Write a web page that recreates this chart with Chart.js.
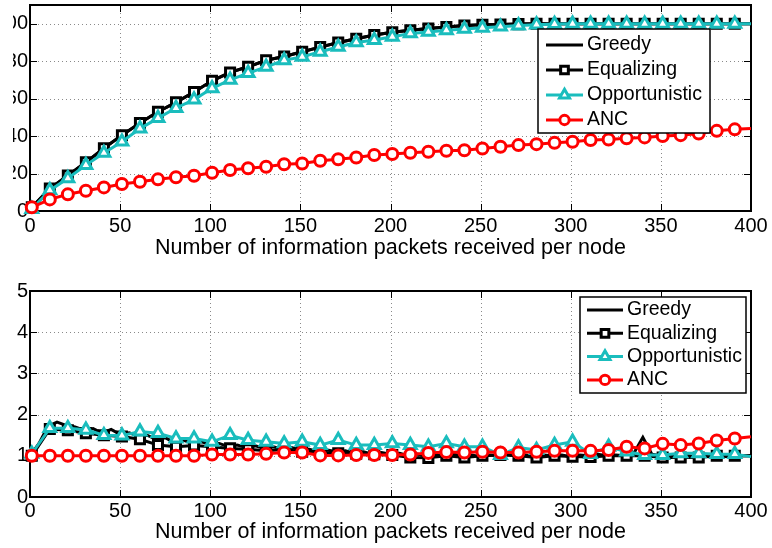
<!DOCTYPE html>
<html>
<head>
<meta charset="utf-8">
<script src="https://cdn.jsdelivr.net/npm/chart.js@4.4.1/dist/chart.umd.min.js"></script>
<style>
  html, body { margin: 0; padding: 0; background: #fff; }
  #wrapTop { position: absolute; left: 13px; top: 0; width: 759px; height: 270px; overflow: hidden; }
  #cTop { position: absolute; left: -13px; top: 0; }
  #cBot { position: absolute; left: 0; top: 270px; }
</style>
</head>
<body>
<div id="wrapTop"><canvas id="cTop" width="772" height="270"></canvas></div>
<canvas id="cBot" width="772" height="278"></canvas>
<script>
/* ── axes / labels ── */
const xTicks = [0, 50, 100, 150, 200, 250, 300, 350, 400];
const yTicksTop = [0, 20, 40, 60, 80, 100];
const yTicksBot = [0, 1, 2, 3, 4, 5];
const seriesNames = ['Greedy', 'Equalizing', 'Opportunistic', 'ANC'];
const xTitle = 'Number of information packets received per node';

/* ── marker positions (every 10 packets, plus the end point) ── */
const markX = [1, 11, 21, 31, 41, 51, 61, 71, 81, 91, 101, 111, 121, 131, 141, 151, 161, 171, 181, 191,
  201, 211, 221, 231, 241, 251, 261, 271, 281, 291, 301, 311, 321, 331, 341, 351, 361, 371, 381, 391, 400];

/* ── upper panel ── */
const greedyTop = [2, 12, 19, 26, 33.5, 40.5, 47, 53, 58, 63.5, 69.5, 74, 77, 80.5, 82.5, 85, 87.5, 90, 92, 94,
  95.5, 96.5, 97.4, 98.3, 99, 99.4, 99.6, 99.8, 100, 100, 100, 100, 100, 100, 100, 100, 100, 100, 100, 100, 100];
const equalTop = [2, 12, 19, 26, 33.5, 40.5, 47, 53, 58, 63.5, 69.5, 74, 77, 80.5, 82.5, 85, 87.5, 90, 92, 94,
  95.5, 96.5, 97.4, 98.3, 99, 99.4, 99.6, 99.8, 100, 100, 100, 100, 100, 100, 100, 100, 100, 100, 100, 100, 100];
const opporTop = [1, 11, 17.5, 24.5, 31, 37, 44, 49.6, 55, 59.5, 65.5, 70, 73.6, 77, 80.5, 82.3, 85, 87.6, 90, 91.3,
  93, 94.8, 95.6, 96.5, 97.2, 97.8, 98.4, 99, 99.5, 99.8, 100, 100, 100, 100, 100, 100, 100, 100, 100, 100, 100];
const ancTop = [2, 6.2, 8.9, 10.8, 12.6, 14.4, 15.6, 16.9, 18, 18.8, 20.4, 21.9, 22.8, 23.6, 25, 25.4, 26.8, 27.6, 28.6, 29.9,
  30.4, 31.1, 31.6, 32.2, 32.4, 33.4, 34.3, 35.2, 35.7, 36.4, 37, 37.9, 38.2, 38.8, 39.3, 40, 40.5, 41.4, 42.8, 43.6, 44];

/* ── lower panel ── */
const greedyX = [0, 5, 10, 15, 20, 25, 30, 35, 40, 45, 50, 55, 60, 65, 70, 75, 80, 85, 90, 95, 100,
  105, 110, 115, 120, 125, 130, 135, 140, 145, 150, 155, 160, 165, 170, 175, 180, 185, 190, 195, 200,
  205, 210, 215, 220, 225, 230, 235, 240, 245, 250, 255, 260, 265, 270, 275, 280, 285, 290, 295, 300,
  305, 310, 315, 320, 325, 330, 335, 340, 345, 350, 355, 360, 365, 370, 375, 380, 385, 390, 395, 400];
const greedyBot = [1.0, 1.3, 1.72, 1.82, 1.74, 1.7, 1.62, 1.66, 1.55, 1.64, 1.52, 1.56, 1.48, 1.5, 1.4, 1.44, 1.32, 1.38, 1.3, 1.34, 1.28,
  1.3, 1.22, 1.26, 1.2, 1.24, 1.18, 1.22, 1.16, 1.2, 1.14, 1.16, 1.1, 1.14, 1.1, 1.12, 1.06, 1.1, 1.04, 1.08, 1.04,
  1.06, 1.0, 1.04, 0.98, 1.02, 1.0, 1.04, 1.0, 1.02, 0.98, 1.02, 1.0, 1.04, 1.0, 1.02, 0.98, 1.02, 1.0, 1.02, 0.98,
  1.02, 1.0, 1.04, 1.0, 1.02, 1.0, 1.06, 1.45, 1.04, 1.0, 1.02, 0.98, 1.0, 0.98, 1.02, 1.0, 0.98, 1.0, 1.0, 1.0];
const equalBot = [1.0, 1.65, 1.62, 1.55, 1.5, 1.47, 1.4, 1.26, 1.22, 1.25, 1.22, 1.18, 1.16, 1.12, 1.15, 1.1, 1.08, 1.06, 1.05, 1.04,
  1.02, 0.96, 0.95, 1.0, 0.96, 1.0, 1.02, 1.0, 0.96, 1.0, 0.98, 0.97, 1.0, 1.0, 1.0, 0.96, 0.96, 0.96, 1.0, 1.0, 1.0];
const opporBot = [1.05, 1.67, 1.67, 1.63, 1.5, 1.49, 1.59, 1.55, 1.42, 1.42, 1.34, 1.5, 1.38, 1.34, 1.3, 1.34, 1.26, 1.38, 1.26, 1.26,
  1.3, 1.26, 1.22, 1.3, 1.22, 1.22, 1.02, 1.2, 1.14, 1.26, 1.34, 1.04, 1.22, 1.1, 1.02, 1.02, 1.06, 1.06, 1.04, 1.04, 0.98];
const ancBot = [1.0, 1.0, 1.0, 1.0, 1.0, 1.0, 1.0, 1.0, 1.0, 1.0, 1.03, 1.03, 1.03, 1.05, 1.08, 1.08, 1.01, 1.01, 1.02, 1.02,
  1.02, 1.03, 1.07, 1.09, 1.08, 1.1, 1.08, 1.08, 1.1, 1.12, 1.12, 1.12, 1.14, 1.22, 1.18, 1.29, 1.26, 1.3, 1.37, 1.42, 1.46];

const FONT = '"Liberation Sans", Arial, sans-serif';
const BLACK = '#000000', CYAN = '#1abdbd', RED = '#ff0000';

Chart.defaults.font.family = FONT;
Chart.defaults.color = '#000';

function pts(xs, ys) { return xs.map(function(x, i) { return {x: x, y: ys[i]}; }); }
// no marker on the closing point at x = 400
function marked(r) { return function(c) { return (c.raw && c.raw.x >= 400) ? 0 : r; }; }

function buildSets(gx, greedy, equal, oppor, anc) {
  return [
    {label: seriesNames[0], data: pts(gx, greedy), borderColor: BLACK, borderWidth: 3, pointRadius: 0, order: 4},
    {label: seriesNames[1], data: pts(markX, equal), borderColor: BLACK, borderWidth: 3, pointStyle: 'rect',
      markR: 6.4, pointRadius: marked(6.4), pointBorderWidth: 3, pointBorderColor: BLACK, pointBackgroundColor: '#fff', order: 3},
    {label: seriesNames[2], data: pts(markX, oppor), borderColor: CYAN, borderWidth: 3, pointStyle: 'triangle',
      markR: 6.8, pointRadius: marked(6.8), pointBorderWidth: 3, pointBorderColor: CYAN, pointBackgroundColor: '#fff', order: 2},
    {label: seriesNames[3], data: pts(markX, anc), borderColor: RED, borderWidth: 3, pointStyle: 'circle',
      markR: 5.5, pointRadius: marked(5.5), pointBorderWidth: 3, pointBorderColor: RED, pointBackgroundColor: '#fff', order: 1}
  ].map(function(d) { return Object.assign({clip: false, tension: 0, fill: false, pointHoverRadius: 0}, d); });
}

/* dotted grid, inward ticks on all four sides, and the axes box */
const frame = {
  id: 'frame',
  beforeDatasetsDraw(chart) {
    const ctx = chart.ctx, a = chart.chartArea, x = chart.scales.x, y = chart.scales.y;
    const L = Math.round(a.left), R = Math.round(a.right), T = Math.round(a.top), B = Math.round(a.bottom);
    const xp = x.ticks.map(function(t) { return Math.round(x.getPixelForValue(t.value)) + 0.5; });
    const yp = y.ticks.map(function(t) { return Math.round(y.getPixelForValue(t.value)) + 0.5; });
    ctx.save();
    ctx.strokeStyle = '#8a8a8a'; ctx.lineWidth = 1; ctx.setLineDash([1, 3]);
    ctx.beginPath();
    xp.forEach(function(p) { ctx.moveTo(p, T); ctx.lineTo(p, B); });
    yp.forEach(function(p) { ctx.moveTo(L, p); ctx.lineTo(R, p); });
    ctx.stroke();
    ctx.setLineDash([]);
    ctx.strokeStyle = '#000'; ctx.lineWidth = 1;
    ctx.beginPath();
    xp.forEach(function(p) { ctx.moveTo(p, B); ctx.lineTo(p, B - 7); ctx.moveTo(p, T); ctx.lineTo(p, T + 7); });
    yp.forEach(function(p) { ctx.moveTo(L, p); ctx.lineTo(L + 7, p); ctx.moveTo(R, p); ctx.lineTo(R - 7, p); });
    ctx.stroke();
    ctx.lineWidth = 2;
    ctx.strokeRect(L, T, R - L, B - T);
    ctx.restore();
  }
};

/* boxed legend inside the plot */
const boxLegend = {
  id: 'boxLegend',
  afterDraw(chart, args, o) {
    const ctx = chart.ctx;
    ctx.save();
    ctx.fillStyle = '#fff'; ctx.strokeStyle = '#000'; ctx.lineWidth = 1.5;
    ctx.fillRect(o.left, o.top, o.width, o.height);
    ctx.strokeRect(o.left, o.top, o.width, o.height);
    ctx.font = o.fontSize + 'px ' + FONT;
    ctx.textBaseline = 'middle';
    chart.data.datasets.forEach(function(ds, i) {
      const yy = o.top + o.firstRow + i * o.rowGap;
      ctx.strokeStyle = ds.borderColor; ctx.lineWidth = ds.borderWidth;
      ctx.beginPath(); ctx.moveTo(o.lineX0, yy); ctx.lineTo(o.lineX1, yy); ctx.stroke();
      if (ds.markR) {
        ctx.fillStyle = '#fff'; ctx.lineWidth = ds.pointBorderWidth;
        Chart.helpers.drawPoint(ctx, {pointStyle: ds.pointStyle, radius: ds.markR * 0.85, borderWidth: ds.pointBorderWidth, rotation: 0},
          (o.lineX0 + o.lineX1) / 2, yy);
      }
      ctx.fillStyle = '#000';
      ctx.fillText(ds.label, o.textX, yy);
    });
    ctx.restore();
  }
};

function makeChart(id, sets, yMax, yTicks, o) {
  return new Chart(document.getElementById(id), {
    type: 'line',
    data: {datasets: sets},
    options: {
      responsive: false, animation: false, events: [],
      layout: {autoPadding: false, padding: {top: o.padTop, right: 21, left: 0, bottom: 0}},
      plugins: {legend: {display: false}, tooltip: {enabled: false}, boxLegend: o.legend},
      scales: {
        x: {
          type: 'linear', min: 0, max: 400,
          afterBuildTicks: function(s) { s.ticks = xTicks.map(function(v) { return {value: v}; }); },
          afterFit: function(s) { s.height = o.xAxisH; s.paddingLeft = 0; s.paddingRight = 0; },
          grid: {display: false, drawTicks: false}, border: {display: false},
          ticks: {autoSkip: false, maxRotation: 0, padding: o.tickPad, color: '#000', font: {size: 20}},
          title: {display: true, text: xTitle, color: '#000', font: {size: 21.5}, padding: {top: 0, bottom: o.titlePad}}
        },
        y: {
          type: 'linear', min: 0, max: yMax,
          afterBuildTicks: function(s) { s.ticks = yTicks.map(function(v) { return {value: v}; }); },
          afterFit: function(s) { s.width = 30; s.paddingTop = 0; s.paddingBottom = 0; },
          grid: {display: false, drawTicks: false}, border: {display: false},
          ticks: {autoSkip: false, padding: 2, color: '#000', font: {size: 20}}
        }
      }
    },
    plugins: [frame, boxLegend]
  });
}

makeChart('cTop', buildSets(markX, greedyTop, equalTop, opporTop, ancTop), 110, yTicksTop, {
  padTop: 5, xAxisH: 59, tickPad: 3.2, titlePad: 8.9,
  legend: {left: 538, top: 29, width: 172, height: 104, firstRow: 16, rowGap: 25, lineX0: 546, lineX1: 583, textX: 587, fontSize: 19.5}
});

makeChart('cBot', buildSets(greedyX, greedyBot, equalBot, opporBot, ancBot), 5, yTicksBot, {
  padTop: 21, xAxisH: 51, tickPad: 2.2, titlePad: 2.6,
  legend: {left: 580, top: 27, width: 166, height: 96, firstRow: 13, rowGap: 23.3, lineX0: 587, lineX1: 623, textX: 627, fontSize: 19.5}
});
</script>
</body>
</html>
